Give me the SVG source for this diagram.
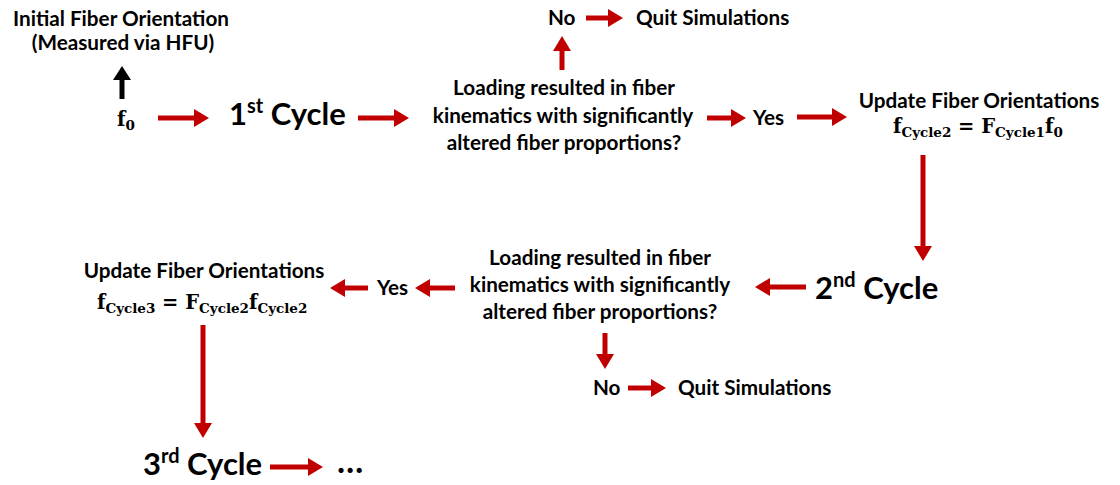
<svg xmlns="http://www.w3.org/2000/svg" width="1120" height="485" viewBox="0 0 1120 485">
<style>
.t{font-family:Lato,"Open Sans","Liberation Sans",sans-serif;font-weight:bold;fill:#000;font-size:20.7px}
.big{font-size:31px}
.dots{font-size:34px}
.m{font-family:"DejaVu Serif","Liberation Serif",serif;font-weight:bold;fill:#000;font-size:19.5px}
.sub{font-size:13.5px}
.c{text-anchor:middle}
.ar{stroke:#C00000;stroke-width:5;fill:none}
.ab{stroke:#000;stroke-width:5;fill:none}
</style>
<defs>
<marker id="hr" markerUnits="userSpaceOnUse" markerWidth="16" markerHeight="18" refX="0" refY="9" orient="auto" viewBox="0 0 16 18">
<path d="M0,0 L15,9 L0,18 Z" fill="#C00000"/>
</marker>
<marker id="hb" markerUnits="userSpaceOnUse" markerWidth="16" markerHeight="18" refX="0" refY="9" orient="auto" viewBox="0 0 16 18">
<path d="M0,0 L14,9 L0,18 Z" fill="#000"/>
</marker>
</defs>
<rect width="1120" height="485" fill="#fff"/>
<g id="connectors">
<line class="ab" x1="122" y1="99" x2="122" y2="80" marker-end="url(#hb)"/>
<line class="ar" x1="158" y1="118" x2="194" y2="118" marker-end="url(#hr)"/>
<line class="ar" x1="358" y1="118" x2="394" y2="118" marker-end="url(#hr)"/>
<line class="ar" x1="562" y1="70" x2="562" y2="51" marker-end="url(#hr)"/>
<line class="ar" x1="586" y1="18" x2="608" y2="18" marker-end="url(#hr)"/>
<line class="ar" x1="707" y1="118" x2="731" y2="118" marker-end="url(#hr)"/>
<line class="ar" x1="797" y1="117" x2="832" y2="117" marker-end="url(#hr)"/>
<line class="ar" x1="923" y1="155" x2="923" y2="246" marker-end="url(#hr)"/>
<line class="ar" x1="806" y1="287" x2="770" y2="287" marker-end="url(#hr)"/>
<line class="ar" x1="455" y1="288" x2="430" y2="288" marker-end="url(#hr)"/>
<line class="ar" x1="368" y1="288" x2="345" y2="288" marker-end="url(#hr)"/>
<line class="ar" x1="203" y1="325" x2="203" y2="423" marker-end="url(#hr)"/>
<line class="ar" x1="605" y1="333" x2="605" y2="354" marker-end="url(#hr)"/>
<line class="ar" x1="628" y1="388" x2="651" y2="388" marker-end="url(#hr)"/>
<line class="ar" x1="270" y1="467" x2="308" y2="467" marker-end="url(#hr)"/>
</g>
<g id="initial">
<text class="t c" x="121" y="26">Initial Fiber Orientation</text>
<text class="t c" x="123" y="50">(Measured via HFU)</text>
</g>
<g id="f0">
<text class="m" x="117" y="126">f<tspan class="sub" dy="4">0</tspan></text>
</g>
<g id="cycle1">
<text class="t big" x="229" y="125">1<tspan font-size="20" dy="-12">st</tspan><tspan dy="12"> Cycle</tspan></text>
</g>
<g id="question1">
<text class="t c" x="564" y="95">Loading resulted in fiber</text>
<text class="t c" x="563" y="123">kinematics with significantly</text>
<text class="t c" x="564" y="150">altered fiber proportions?</text>
</g>
<g id="no1">
<text class="t" x="548" y="25">No</text>
</g>
<g id="quit1">
<text class="t" x="636" y="25">Quit Simulations</text>
</g>
<g id="yes1">
<text class="t" x="753" y="125">Yes</text>
</g>
<g id="update1">
<text class="t c" x="979" y="108">Update Fiber Orientations</text>
<text class="m" x="893" y="133">f<tspan class="sub" dy="4">Cycle2</tspan><tspan dy="-4"> = F</tspan><tspan class="sub" dy="4">Cycle1</tspan><tspan dy="-4">f</tspan><tspan class="sub" dy="4">0</tspan></text>
</g>
<g id="cycle2">
<text class="t big" x="815" y="299">2<tspan font-size="20" dy="-12">nd</tspan><tspan dy="12"> Cycle</tspan></text>
</g>
<g id="question2">
<text class="t c" x="600" y="265">Loading resulted in fiber</text>
<text class="t c" x="600" y="292">kinematics with significantly</text>
<text class="t c" x="600" y="319">altered fiber proportions?</text>
</g>
<g id="yes2">
<text class="t" x="377" y="295">Yes</text>
</g>
<g id="update2">
<text class="t c" x="204" y="278">Update Fiber Orientations</text>
<text class="m" x="97" y="309">f<tspan class="sub" dy="4">Cycle3</tspan><tspan dy="-4"> = F</tspan><tspan class="sub" dy="4">Cycle2</tspan><tspan dy="-4">f</tspan><tspan class="sub" dy="4">Cycle2</tspan></text>
</g>
<g id="no2">
<text class="t" x="593" y="395">No</text>
</g>
<g id="quit2">
<text class="t" x="678" y="395">Quit Simulations</text>
</g>
<g id="cycle3">
<text class="t big" x="143" y="475">3<tspan font-size="20" dy="-12">rd</tspan><tspan dy="12"> Cycle</tspan></text>
</g>
<g id="ellipsis">
<text class="t dots" x="337" y="473">…</text>
</g>
</svg>
